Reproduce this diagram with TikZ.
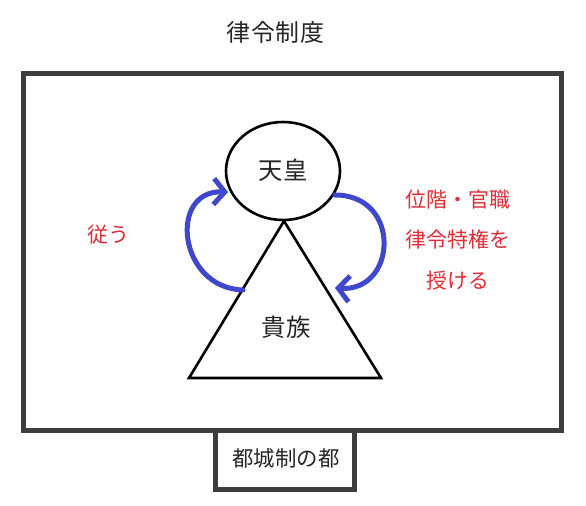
\documentclass[tikz,border=0pt]{standalone}
\usepackage{fontspec}
\setmainfont{Noto Sans CJK JP}
\usetikzlibrary{arrows.meta,shapes.geometric}
\definecolor{framegray}{RGB}{62,62,62}
\definecolor{arrowblue}{RGB}{63,72,204}
\definecolor{labelred}{RGB}{225,45,55}
\tikzset{
  framebox/.style={draw=framegray, line width=5bp, inner sep=0pt},
  bigtext/.style={font=\fontsize{24.5}{28}\selectfont, text=black!85},
  redtext/.style={font=\fontsize{21}{41}\selectfont, text=labelred, align=center},
  bluearrow/.style={draw=arrowblue, line width=5bp, line cap=round,
    -{Straight Barb[length=11bp,width=26bp,line width=5bp]}},
  outline/.style={draw=black, line width=2.6bp}
}
\begin{document}
\begin{tikzpicture}[x=1bp,y=-1bp]
\useasboundingbox (0,0) rectangle (586,506);
\fill[white] (0,0) rectangle (586,506);
% title
\node[font=\fontsize{24}{28}\selectfont\addfontfeature{LetterSpace=4}, text=black!85] (title) at (275.5,32.5) {律令制度};
% outer frame
\node[framebox, minimum width=538bp, minimum height=357bp] (frame) at (292.5,252) {};
% bottom box
\node[framebox, minimum width=139bp, minimum height=59bp] (miyako) at (285,460) {};
\node[font=\fontsize{21.5}{24}\selectfont, text=black!85] (miyakot) at (286,458) {都城制の都};
% triangle
\coordinate (apex) at (284,221);
\coordinate (bl) at (189,378);
\coordinate (br) at (381,378);
\draw[outline, line join=miter] (apex) -- (bl) -- (br) -- cycle;
\node[bigtext] (kizoku) at (286,327) {貴族};
% circle
\node[outline, ellipse, minimum width=114bp, minimum height=98bp, fill=white] (tenno) at (283,171) {};
\node[bigtext] (tennot) at (283,170.5) {天皇};
% arrows
\coordinate (ls) at (243,290);
\coordinate (le) at (228,192);
\coordinate (rs) at (335,195);
\coordinate (re) at (335,288);
\draw[bluearrow] (ls) .. controls (178,288) and (168,190) .. (le);
\draw[bluearrow] (rs) .. controls (402,195) and (397,292) .. (re);
% labels
\node[font=\fontsize{21}{24}\selectfont, text=labelred] (shitagau) at (108,235) {従う};
\node[redtext] (sazukeru) at (458,240) {位階・官職\\律令特権を\\授ける};
\end{tikzpicture}
\end{document}
